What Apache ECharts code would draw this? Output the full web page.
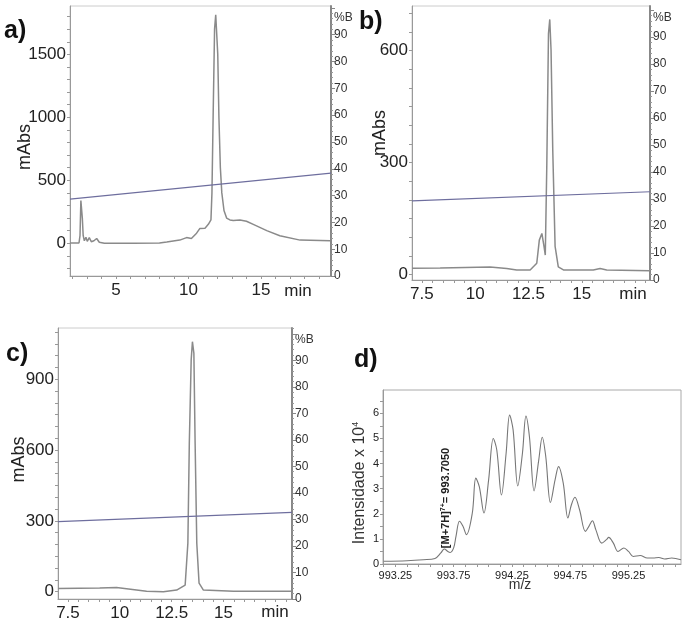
<!DOCTYPE html>
<html><head><meta charset="utf-8">
<script src="https://cdn.jsdelivr.net/npm/echarts@6/dist/echarts.min.js"></script>
<style>html,body{margin:0;padding:0;background:#fff}#c{width:685px;height:632px}</style>
</head><body><div id="c"></div><script>
// ---- data ----
const chromA = [[1.83,2],[2.45,2],[2.52,60],[2.58,340],[2.63,345],[2.68,200],[2.74,60],[2.82,20],[2.93,48],[3.02,15],[3.16,45],[3.30,12],[3.48,20],[3.67,38],[3.85,8],[4.2,0],[6.2,0],[8.0,2],[8.5,10],[9.4,25],[9.87,45],[10.2,38],[10.56,80],[10.79,118],[11.14,120],[11.37,150],[11.55,185],[11.62,400],[11.7,1000],[11.8,1700],[11.88,1815],[11.95,1800],[12.02,1500],[12.1,1000],[12.2,600],[12.3,400],[12.45,260],[12.63,200],[12.86,185],[13.09,180],[13.55,185],[14.0,175],[14.47,150],[15.4,100],[16.3,60],[17.7,25],[19.8,20]];
const gradA = [[1.83,28.7],[19.83,38.4]];
const chromB = [[7.04,16.6],[8.36,17.5],[10.7,20],[11.48,16],[11.95,12],[12.58,12],[12.89,30],[13.01,92],[13.13,110],[13.23,75],[13.29,52],[13.36,290],[13.44,646],[13.5,684],[13.56,602],[13.64,334],[13.75,75],[13.9,20],[14.14,12],[15.54,12],[15.86,16],[16.17,12],[18.2,10]];
const gradB = [[7.04,29.3],[18.2,32.7]];
const chromC = [[7.02,14],[9.03,16],[9.84,18],[11.29,2],[12.1,0],[12.74,7],[13.15,28],[13.28,205],[13.35,629],[13.44,982],[13.5,1059],[13.57,1010],[13.63,629],[13.71,205],[13.82,36],[14.03,7],[15.48,2],[18.3,2]];
const gradC = [[7.02,29.2],[18.3,32.7]];
const spectrumD = [[993.15,0.11],[993.35,0.13],[993.49,0.17],[993.59,0.22],[993.64,0.44],[993.67,0.6],[993.70,0.5],[993.72,0.46],[993.75,0.64],[993.77,1.1],[993.80,1.7],[993.83,1.5],[993.86,1.17],[993.91,2.03],[993.94,3.42],[993.97,3.08],[994.01,2.03],[994.05,3.35],[994.09,5.0],[994.12,4.54],[994.16,2.75],[994.20,4.41],[994.23,5.93],[994.26,5.34],[994.30,3.11],[994.34,4.41],[994.37,5.89],[994.40,5.07],[994.44,2.91],[994.48,4.15],[994.51,5.05],[994.54,4.28],[994.58,2.45],[994.62,3.35],[994.65,3.88],[994.69,3.22],[994.73,1.83],[994.76,2.36],[994.79,2.66],[994.83,2.16],[994.88,1.30],[994.91,1.5],[994.94,1.72],[994.97,1.36],[995.02,0.83],[995.06,0.97],[995.08,1.06],[995.12,0.83],[995.16,0.50],[995.21,0.64],[995.25,0.50],[995.29,0.30],[995.35,0.34],[995.41,0.24],[995.46,0.24],[995.51,0.26],[995.56,0.20],[995.62,0.24],[995.70,0.17]];
const xLabelsA = [5,10,15];
const xLabelsBC = [7.5,10,12.5,15];
const yLabelsA = [0,500,1000,1500];
const yLabelsB = [0,300,600];
const yLabelsC = [0,300,600,900];
const pctLabels = [0,10,20,30,40,50,60,70,80,90,100];
const xLabelsD = [993.25,993.75,994.25,994.75,995.25];
const yLabelsD = [0,1,2,3,4,5,6];

function range(a,b,s){const r=[];for(let v=a;v<=b+1e-9;v+=s)r.push(+v.toFixed(4));return r;}
const FONT='Liberation Sans';
const dark='#222';
const plain=v=>String(v);

function xAx(gi,min,max,labels,ticks,fs){
  return {type:'value',gridIndex:gi,min,max,
    axisLine:{show:true,onZero:false,lineStyle:{color:'#999',width:1}},
    axisTick:{show:true,customValues:ticks,length:3,lineStyle:{color:'#999'}},
    axisLabel:{customValues:labels,formatter:plain,fontSize:fs,color:dark,fontFamily:FONT,margin:6},
    splitLine:{show:false}};
}
function yAx(gi,min,max,labels,ticks,fs,name,gap,pad){
  return {type:'value',gridIndex:gi,min,max,position:'left',
    name:name,nameLocation:'middle',nameGap:gap,nameRotate:90,nameMoveOverlap:false,
    nameTextStyle:{fontSize:18,color:dark,fontFamily:FONT,padding:pad||0},
    axisLine:{show:true,onZero:false,lineStyle:{color:'#999',width:1}},
    axisTick:{show:true,customValues:ticks,length:3,lineStyle:{color:'#999'}},
    axisLabel:{customValues:labels,formatter:plain,fontSize:fs,color:dark,fontFamily:FONT,margin:4},
    splitLine:{show:false}};
}
function pAx(gi,max){
  return {type:'value',gridIndex:gi,position:'right',min:0,max:max,interval:10,
    name:'%B',nameLocation:'end',nameGap:-12,nameMoveOverlap:false,
    nameTextStyle:{fontSize:12,color:'#333',fontFamily:FONT,align:'left',verticalAlign:'middle',padding:[10,0,0,3]},
    axisLine:{show:true,lineStyle:{color:'#888',width:2}},
    axisTick:{show:true,customValues:pctLabels,length:4,lineStyle:{color:'#888'}},
    minorTick:{show:true,splitNumber:5,length:2,lineStyle:{color:'#999'}},
    axisLabel:{customValues:pctLabels.slice(0,10),formatter:plain,fontSize:12,color:'#333',fontFamily:FONT,margin:3},
    splitLine:{show:false}};
}
const lineGray={color:'#8a8a8a',width:1.5};
const lineBlue={color:'#6e6e9e',width:1.2};

const chart=echarts.init(document.getElementById('c'));
chart.setOption({
  animation:false,
  backgroundColor:'#fff',
  grid:[
    {left:70,top:6,width:261,height:270,show:true,borderColor:'#ccc',borderWidth:1,outerBoundsMode:'none'},
    {left:412,top:6,width:238,height:274,show:true,borderColor:'#ccc',borderWidth:1,outerBoundsMode:'none'},
    {left:58,top:328,width:234,height:271,show:true,borderColor:'#ccc',borderWidth:1,outerBoundsMode:'none'},
    {left:383,top:390,width:298,height:174,show:true,borderColor:'#aaa',borderWidth:1,outerBoundsMode:'none'}
  ],
  xAxis:[
    xAx(0,1.83,19.83,xLabelsA,range(2,19,1),17),
    xAx(1,7.04,18.2,xLabelsBC,range(7.5,18,0.5),17),
    xAx(2,7.02,18.3,xLabelsBC,range(7.5,18,0.5),17),
    Object.assign(xAx(3,993.144,995.70,xLabelsD,range(993.15,995.65,0.1),11),
      {name:'m/z',nameLocation:'middle',nameGap:14,nameMoveOverlap:false,nameTextStyle:{fontSize:14,color:'#333',fontFamily:FONT,padding:[0,24,0,0]}})
  ],
  yAxis:[
    yAx(0,-260,1884,yLabelsA,range(-200,1800,100),17,'mAbs',36,[0,12,0,0]),
    pAx(0,100.7),
    yAx(1,-15,720,yLabelsB,range(0,700,50),17,'mAbs',23,[0,0,0,20]),
    pAx(1,101.5),
    yAx(2,-31,1117,yLabelsC,range(0,1100,50),17,'mAbs',30,[0,0,0,8]),
    pAx(2,102.2),
    Object.assign(yAx(3,0,6.93,yLabelsD,range(0,6.5,0.5),11,'Intensidade x 10{sup|4}',15),
      {nameTextStyle:{fontSize:16,color:'#333',fontFamily:FONT,padding:[0,12,0,0],rich:{sup:{fontSize:9,verticalAlign:'top',color:'#333',fontFamily:FONT,padding:[0,0,8,0]}}}})
  ],
  series:[
    {type:'line',xAxisIndex:0,yAxisIndex:0,data:chromA,symbol:'none',lineStyle:lineGray},
    {type:'line',xAxisIndex:0,yAxisIndex:1,data:gradA,symbol:'none',lineStyle:lineBlue},
    {type:'line',xAxisIndex:1,yAxisIndex:2,data:chromB,symbol:'none',lineStyle:lineGray},
    {type:'line',xAxisIndex:1,yAxisIndex:3,data:gradB,symbol:'none',lineStyle:lineBlue},
    {type:'line',xAxisIndex:2,yAxisIndex:4,data:chromC,symbol:'none',lineStyle:lineGray},
    {type:'line',xAxisIndex:2,yAxisIndex:5,data:gradC,symbol:'none',lineStyle:lineBlue},
    {type:'line',xAxisIndex:3,yAxisIndex:6,data:spectrumD,symbol:'none',smooth:0.35,lineStyle:{color:'#777',width:1.1}}
  ],
  graphic:[
    {type:'text',x:4,y:31,style:{text:'a)',font:'bold 25px "Liberation Sans"',fill:'#111',verticalAlign:'middle'}},
    {type:'text',x:359,y:22,style:{text:'b)',font:'bold 25px "Liberation Sans"',fill:'#111',verticalAlign:'middle'}},
    {type:'text',x:6,y:354,style:{text:'c)',font:'bold 25px "Liberation Sans"',fill:'#111',verticalAlign:'middle'}},
    {type:'text',x:354,y:360,style:{text:'d)',font:'bold 25px "Liberation Sans"',fill:'#111',verticalAlign:'middle'}},
    {type:'text',x:298,y:291,style:{text:'min',font:'17px "Liberation Sans"',fill:dark,align:'center',verticalAlign:'middle'}},
    {type:'text',x:633,y:294,style:{text:'min',font:'17px "Liberation Sans"',fill:dark,align:'center',verticalAlign:'middle'}},
    {type:'text',x:275,y:612,style:{text:'min',font:'17px "Liberation Sans"',fill:dark,align:'center',verticalAlign:'middle'}},
    {type:'text',x:446,y:498,rotation:Math.PI/2,style:{text:'[M+7H]{s|7+}= 993.7050',font:'bold 11px "Liberation Sans"',fill:'#222',align:'center',verticalAlign:'middle',
      rich:{s:{fontSize:7,fontWeight:'bold',fontFamily:FONT,verticalAlign:'top',padding:[0,0,5,0],fill:'#222'}}}}
  ]
});
</script></body></html>
